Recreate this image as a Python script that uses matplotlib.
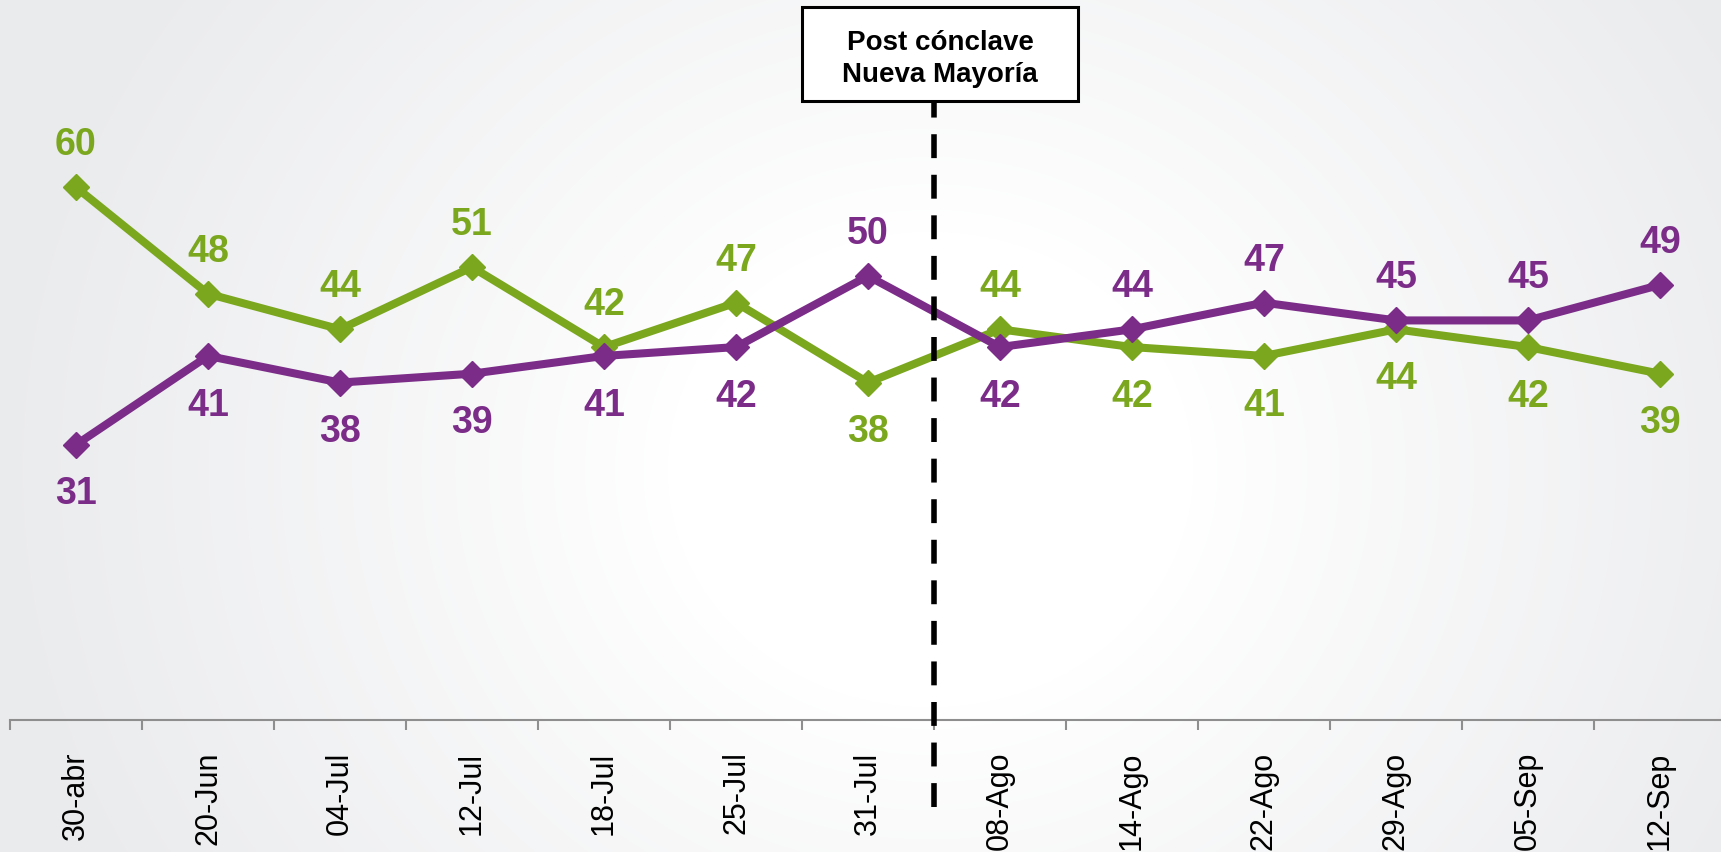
import numpy as np
import matplotlib
matplotlib.use("Agg")
import matplotlib.pyplot as plt
from matplotlib.patches import Rectangle
import matplotlib.transforms as mtrans

categories = ["30-abr", "20-Jun", "04-Jul", "12-Jul", "18-Jul", "25-Jul", "31-Jul",
              "08-Ago", "14-Ago", "22-Ago", "29-Ago", "05-Sep", "12-Sep"]
green_values = [60, 48, 44, 51, 42, 47, 38, 44, 42, 41, 44, 42, 39]
purple_values = [31, 41, 38, 39, 41, 42, 50, 42, 44, 47, 45, 45, 49]
marker_label = "Post cónclave\nNueva Mayoría"
marker_position = 6.5

GREEN = "#7BA71E"
PURPLE = "#7B2C88"

plt.rcParams['font.family'] = ['Liberation Sans', 'DejaVu Sans']

W, H = 1721, 853
fig = plt.figure(figsize=(W / 100, H / 100), dpi=100)

# background radial gradient
bg = fig.add_axes([0, 0, 1, 1], zorder=0)
yy, xx = np.mgrid[0:H, 0:W]
cx, cy = 930, 470
d = np.sqrt(((xx - cx) / 1.05) ** 2 + ((yy - cy) / 0.95) ** 2)
t = np.clip((d - 250) / (650), 0, 1)
t = t ** 0.9
white = np.array([1.0, 1.0, 1.0])
gray = np.array([0xEA, 0xEB, 0xED]) / 255.0
img = white[None, None, :] * (1 - t[..., None]) + gray[None, None, :] * t[..., None]
bg.imshow(img, extent=[0, W, H, 0], aspect='auto', interpolation='bilinear')
bg.set_xlim(0, W)
bg.set_ylim(H, 0)
bg.axis('off')

ax_left = 10 / W
ax_bottom = 1 - 721 / H
ax = fig.add_axes([ax_left, ax_bottom, 1716 / W, 721 / H], zorder=1)
ax.patch.set_alpha(0)

x = np.arange(len(categories))
ax.plot(x, green_values, color=GREEN, lw=5.8, marker='D', ms=13, solid_joinstyle='miter', zorder=3)
ax.plot(x, purple_values, color=PURPLE, lw=5.8, marker='D', ms=13, solid_joinstyle='miter', zorder=4)

ax.set_xlim(-0.5, len(categories) - 0.5)
ax.set_ylim(0, 81.2)

for i, (g, p) in enumerate(zip(green_values, purple_values)):
    g_up = g >= p
    ax.annotate(str(g), (i, g), xytext=(0, 31 if g_up else -35), textcoords='offset points',
                ha='center', va='center', fontsize=27, fontweight='bold', color=GREEN, zorder=5)
    ax.annotate(str(p), (i, p), xytext=(0, -35 if g_up else 31), textcoords='offset points',
                ha='center', va='center', fontsize=27, fontweight='bold', color=PURPLE, zorder=5)

for s in ['top', 'right', 'left']:
    ax.spines[s].set_visible(False)
ax.spines['bottom'].set_color('#8E8E8E')
ax.spines['bottom'].set_linewidth(1.5)
ax.set_yticks([])
ax.set_xticks(np.arange(-0.5, len(categories), 1.0), minor=False)
ax.set_xticklabels([])
ax.tick_params(axis='x', which='major', length=7, width=1.5, color='#8E8E8E', direction='out')
ax.set_xticks(x, minor=True)
ax.set_xticklabels(categories, minor=True, rotation=90, fontsize=22, va='top', ha='center')
ax.tick_params(axis='x', which='minor', length=0, pad=22)

# vertical dashed marker
trans = mtrans.blended_transform_factory(ax.transData, ax.transAxes)
ax.plot([marker_position, marker_position], [(721 - 808) / 721, (721 - 102) / 721],
        transform=trans, color='black', lw=4, dashes=(4.3, 3), clip_on=False, zorder=6)

# label box
fig.patches.append(Rectangle((802 / W, 1 - 102 / H), (1078 - 802) / W, (102 - 8) / H,
                             transform=fig.transFigure, facecolor='white', edgecolor='black',
                             lw=2.2, zorder=7))
fig.text(940 / W, 1 - 59 / H, marker_label, ha='center', va='center', fontsize=20,
         fontweight='bold', color='black', linespacing=1.3, zorder=8)

fig.savefig("out.png", dpi=100)
